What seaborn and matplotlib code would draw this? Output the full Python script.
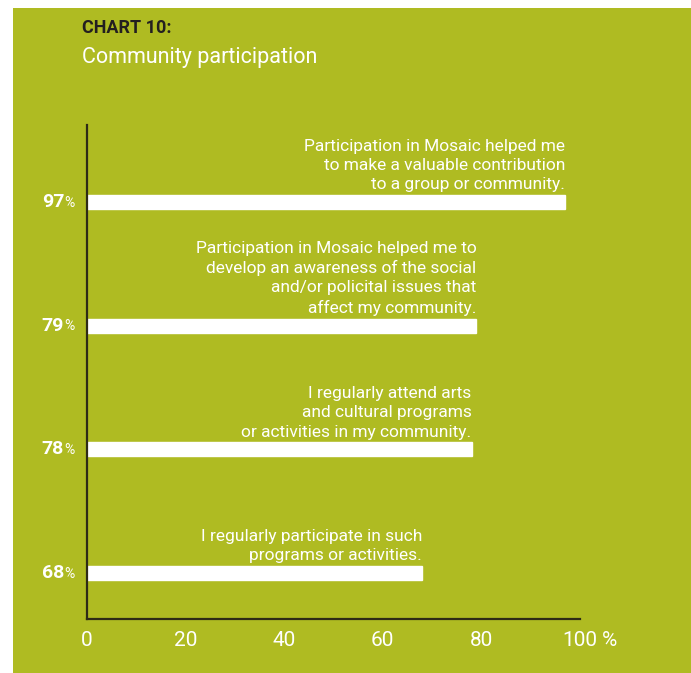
"""
Chart 10: Community participation (horizontal bar chart).
"""

import matplotlib.pyplot as plt
import seaborn as sns
from matplotlib.patches import Rectangle

# Data
statements = [
    "Participation in Mosaic helped me\nto make a valuable contribution\nto a group or community.",
    "Participation in Mosaic helped me to\ndevelop an awareness of the social\nand/or policital issues that\naffect my community.",
    "I regularly attend arts\nand cultural programs\nor activities in my community.",
    "I regularly participate in such\nprograms or activities.",
]
percent = [97, 79, 78, 68]
x_ticks = [0, 20, 40, 60, 80, 100]
x_tick_labels = ["0", "20", "40", "60", "80", "100"]

GREEN = "#afbb22"
DARK = "#2e2b16"
FONT = ["Roboto", "DejaVu Sans"]

sns.set_style("white")
plt.rcParams["font.family"] = FONT

fig = plt.figure(figsize=(6.91, 6.73), dpi=100)
fig.patch.set_facecolor("white")
# green panel (white strip on left and top)
fig.patches.append(Rectangle((13 / 691, 0), 1 - 13 / 691, 1 - 8 / 673,
                             transform=fig.transFigure, facecolor=GREEN,
                             edgecolor="none", zorder=-10))

ax = fig.add_axes([87 / 691, 1 - 619 / 673, (580 - 87) / 691, (619 - 125) / 673])
ax.set_facecolor("none")
ax.set_zorder(5)

positions = list(range(len(percent)))
sns.barplot(x=percent, y=positions, orient="h", color="white", width=0.115,
            saturation=1, ax=ax, native_scale=True)

ax.set_xlim(0, 100)
ax.set_ylim(3.372, -0.623)

ax.set_xticks(x_ticks)
ax.set_xticklabels(x_tick_labels, color="white", fontsize=15)
ax.tick_params(axis="x", length=0, pad=9)
ax.set_yticks([])
ax.set_xlabel("")
ax.set_ylabel("")
# unit sign after the last tick label
ax.annotate("%", xy=(1, 0), xycoords="axes fraction", xytext=(16, -9),
            textcoords="offset points", ha="left", va="top", color="white",
            fontsize=15, annotation_clip=False)

for side in ["top", "right"]:
    ax.spines[side].set_visible(False)
for side in ["left", "bottom"]:
    ax.spines[side].set_color(DARK)
    ax.spines[side].set_linewidth(1.6)

# statement labels above each bar, right aligned at bar end
for pos, val, text in zip(positions, percent, statements):
    ax.annotate(text, xy=(val, pos), xytext=(0, 7), textcoords="offset points",
                ha="right", va="bottom", color="white", fontsize=12.5,
                linespacing=1.35)
    ax.annotate(f"{val}", xy=(0, pos), xytext=(-16.5, 0), textcoords="offset points",
                ha="right", va="center", color="white", fontsize=14,
                fontweight="bold", annotation_clip=False)
    ax.annotate("%", xy=(0, pos), xytext=(-9, -0.5), textcoords="offset points",
                ha="right", va="center", color="white", fontsize=10,
                annotation_clip=False)

fig.text(82 / 691, 1 - 28 / 673, "CHART 10:", color="#231f20", fontsize=13,
         fontweight="bold", va="center", ha="left")
fig.text(82 / 691, 1 - 58 / 673, "Community participation", color="white",
         fontsize=15.5, va="center", ha="left")

plt.savefig("out.png", dpi=100, facecolor=fig.get_facecolor())
plt.close()
